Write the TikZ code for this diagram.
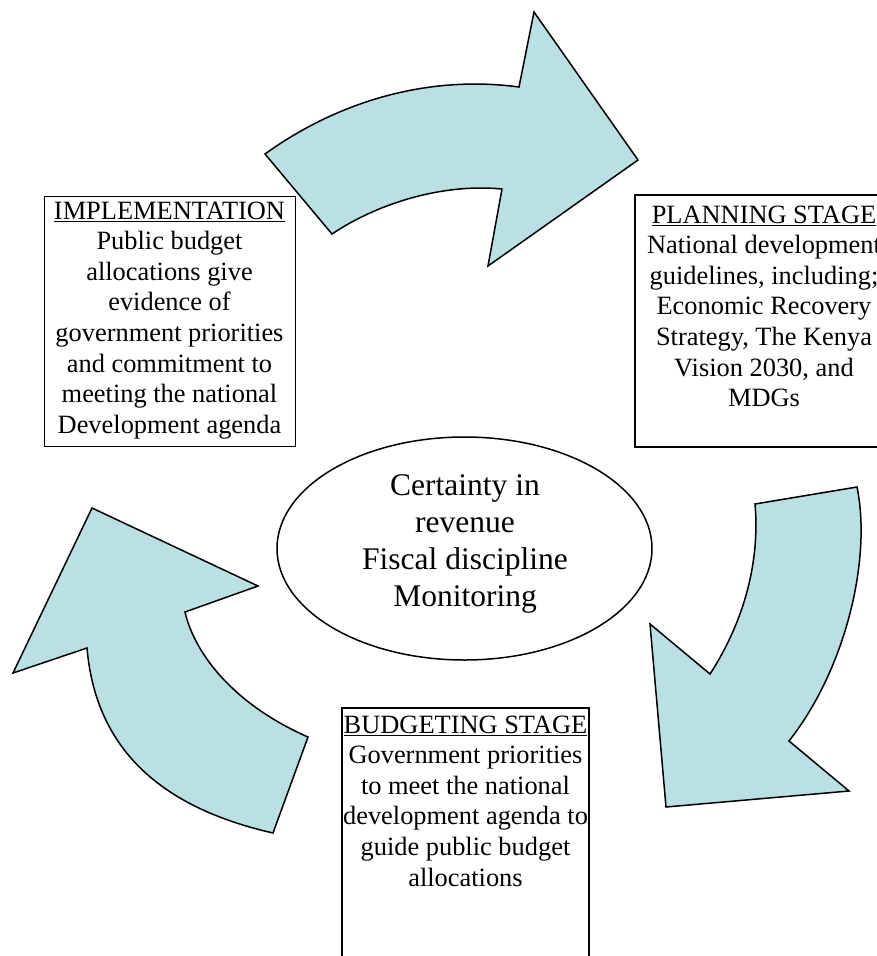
\documentclass[tikz,border=0pt]{standalone}
\usepackage{fontspec}
\setmainfont{Liberation Serif}
\usetikzlibrary{shapes.geometric}
\definecolor{arrowfill}{HTML}{BBE0E3}
\begin{document}
\begin{tikzpicture}[x=1pt,y=-1pt,
  bigarrow/.style={fill=arrowfill, draw=black, line width=1.5pt, line join=miter},
  stagebox/.style={draw=black, rectangle, inner sep=0pt},
  stagetext/.style={align=center, inner sep=0pt, anchor=north,
    font=\fontsize{26.4}{30.6}\selectfont},
  coretext/.style={align=center, inner sep=0pt,
    font=\fontsize{31.5}{37.3}\selectfont}]
\useasboundingbox (0,0) rectangle (877,956);

% curved arrows of the cycle
\draw[bigarrow] (265,154) .. controls (340,100) and (430,75) .. (519,87)
  -- (534,12) -- (638,160) -- (488,266) -- (502,189)
  .. controls (440,183) and (375,205) .. (332,234) -- cycle;
\draw[bigarrow] (755,504) -- (857,487)
  .. controls (872,560) and (845,670) .. (789,741)
  -- (849,791) -- (666,807) -- (650,624) -- (710,674)
  .. controls (745,620) and (760,560) .. (755,504) -- cycle;
\draw[bigarrow] (92,508) -- (258,586) -- (185,612)
  .. controls (195,655) and (235,705) .. (308,737)
  -- (273,833)
  .. controls (150,805) and (95,740) .. (87,648)
  -- (13,673) -- cycle;

% centre ellipse
\node[draw=black, line width=1.5pt, ellipse, inner sep=0pt,
  minimum width=375pt, minimum height=223pt] (core) at (464.5,548.5) {};
\node[coretext] (coretxt) at (465,544)
  {Certainty in\\revenue\\Fiscal discipline\\Monitoring};

% stage boxes
\node[stagebox, line width=0.8pt, minimum width=251pt, minimum height=250pt]
  (impl) at (169.5,321) {};
\node[stagetext] (impltxt) at (169.5,201.5)
  {\underline{IMPLEMENTATION}\\Public budget\\allocations give\\evidence of\\
   government priorities\\and commitment to\\meeting the national\\
   Development agenda};

\node[stagebox, line width=2pt, minimum width=258pt, minimum height=252pt]
  (plan) at (764,321) {};
\node[stagetext] (plantxt) at (764,205.5)
  {\underline{PLANNING STAGE}\\National development\\guidelines, including;\\
   Economic Recovery\\Strategy, The Kenya\\Vision 2030, and\\MDGs};

\node[stagebox, line width=1.2pt, minimum width=247pt, minimum height=272pt]
  (budg) at (465.5,844) {};
\node[stagetext] (budgtxt) at (465.5,715.5)
  {\underline{BUDGETING STAGE}\\Government priorities\\to meet the national\\
   development agenda to\\guide public budget\\allocations};
\end{tikzpicture}
\end{document}
